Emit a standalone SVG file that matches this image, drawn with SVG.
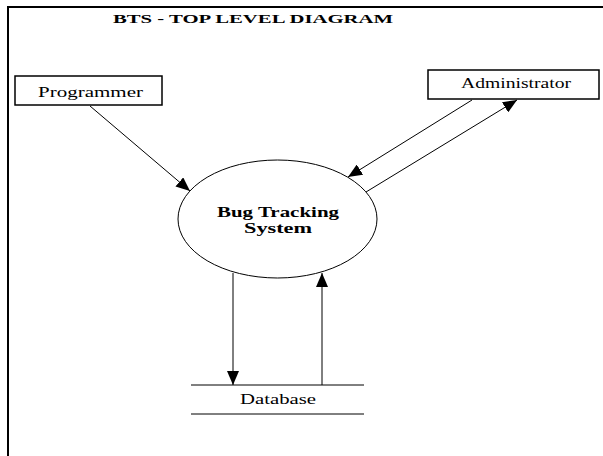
<svg xmlns="http://www.w3.org/2000/svg" width="603" height="456" viewBox="0 0 603 456">
<style>
  text { font-family: "Liberation Serif", "Times New Roman", serif; fill: #000; }
  .lbl { font-size: 14px; }
  .bold { font-weight: bold; }
  .box { fill: #fff; stroke: #000; stroke-width: 1.5; }
  .flow { fill: none; stroke: #000; stroke-width: 1; }
</style>
<defs>
  <marker id="arr" markerUnits="userSpaceOnUse" markerWidth="14" markerHeight="12" refX="14" refY="6" orient="auto">
    <path d="M0,0 L14,6 L0,12 z" fill="#000"/>
  </marker>
</defs>
<rect width="603" height="456" fill="#fff"/>
<path d="M8,456 V7 H603" fill="none" stroke="#000" stroke-width="2"/>
<text class="bold" x="113" y="23" font-size="12" textLength="280" lengthAdjust="spacingAndGlyphs">BTS - TOP LEVEL DIAGRAM</text>

<g id="programmer">
  <rect class="box" x="15" y="76" width="147" height="29"/>
  <text class="lbl" x="38" y="97" textLength="105" lengthAdjust="spacingAndGlyphs">Programmer</text>
</g>
<g id="administrator">
  <rect class="box" x="428" y="70" width="171" height="29"/>
  <text class="lbl" x="461" y="88" textLength="110" lengthAdjust="spacingAndGlyphs">Administrator</text>
</g>
<g id="system">
  <ellipse cx="277.5" cy="219" rx="99.5" ry="59" fill="#fff" stroke="#000" stroke-width="1"/>
  <text class="bold" x="217" y="217" font-size="14" textLength="122" lengthAdjust="spacingAndGlyphs">Bug Tracking</text>
  <text class="bold" x="244" y="233" font-size="14" textLength="68" lengthAdjust="spacingAndGlyphs">System</text>
</g>
<g id="database">
  <line x1="191" y1="385" x2="364" y2="385" stroke="#000" stroke-width="1"/>
  <line x1="191" y1="414" x2="364" y2="414" stroke="#000" stroke-width="1"/>
  <text class="lbl" x="240" y="404" textLength="76" lengthAdjust="spacingAndGlyphs">Database</text>
</g>
<g id="connectors">
  <line class="flow" x1="90" y1="106" x2="190" y2="191" marker-end="url(#arr)"/>
  <line class="flow" x1="472" y1="100" x2="348" y2="177" marker-end="url(#arr)"/>
  <line class="flow" x1="366" y1="192" x2="517" y2="100" marker-end="url(#arr)"/>
  <line class="flow" x1="233" y1="273" x2="233" y2="385" marker-end="url(#arr)"/>
  <line class="flow" x1="322" y1="385" x2="322" y2="273" marker-end="url(#arr)"/>
</g>
</svg>
